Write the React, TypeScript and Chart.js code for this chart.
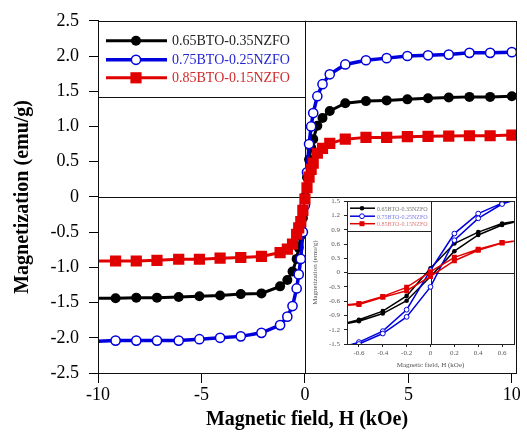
import React, { useEffect, useRef } from "react";
import { Chart, registerables } from "chart.js";

Chart.register(...registerables);

const SERIF = '"Liberation Serif", "Times New Roman", serif';

const seriesLabels = ["0.65BTO-0.35NZFO", "0.75BTO-0.25NZFO", "0.85BTO-0.15NZFO"];
const seriesColors = ["#000000", "#0000dd", "#e00000"];
const legendTextColors = ["#222222", "#2525d0", "#d02a2a"];
const insetLegendTextColors = ["#777777", "#7a7ae6", "#e07a7a"];

// Main plot: magnetic field (kOe) and magnetization (emu/g)
const fieldMain = [-10, -9.15, -8.15, -7.15, -6.1, -5.1, -4.1, -3.1, -2.1, -1.2, -0.85, -0.6, -0.4, -0.3, -0.2, -0.1, 0, 0.1, 0.2, 0.3, 0.4, 0.6, 0.85, 1.2, 1.95, 2.95, 3.95, 4.95, 5.95, 6.95, 7.95, 8.95, 10];
const m65Main = [-1.44, -1.44, -1.43, -1.43, -1.42, -1.41, -1.4, -1.38, -1.37, -1.27, -1.18, -1.06, -0.88, -0.72, -0.55, -0.3, 0, 0.28, 0.53, 0.7, 0.82, 1.01, 1.12, 1.22, 1.33, 1.36, 1.37, 1.385, 1.4, 1.41, 1.42, 1.42, 1.43];
const m75Main = [-2.05, -2.04, -2.04, -2.04, -2.04, -2.02, -2.0, -1.98, -1.93, -1.82, -1.7, -1.55, -1.3, -1.1, -0.88, -0.5, -0.12, 0.35, 0.75, 1.0, 1.19, 1.43, 1.6, 1.74, 1.88, 1.94, 1.97, 2.0, 2.01, 2.02, 2.045, 2.045, 2.055];
const m85Main = [-0.91, -0.91, -0.91, -0.9, -0.885, -0.885, -0.87, -0.86, -0.845, -0.79, -0.74, -0.67, -0.53, -0.44, -0.35, -0.19, -0.03, 0.13, 0.28, 0.39, 0.48, 0.62, 0.69, 0.76, 0.82, 0.845, 0.845, 0.855, 0.86, 0.863, 0.868, 0.868, 0.877];

// Inset: hysteresis loop near origin (descending then ascending branch)
const fieldInset = [0.8, 0.6, 0.4, 0.2, 0, -0.2, -0.4, -0.6, -0.8, -0.6, -0.4, -0.2, 0, 0.2, 0.4, 0.6, 0.8];
const m65Inset = [1.12, 1.03, 0.85, 0.61, 0.09, -0.49, -0.81, -0.99, -1.12, -1.02, -0.86, -0.59, -0.08, 0.45, 0.79, 1.0, 1.12];
const m75Inset = [1.6, 1.46, 1.24, 0.82, 0.05, -0.78, -1.23, -1.46, -1.62, -1.5, -1.28, -0.93, -0.3, 0.68, 1.14, 1.44, 1.6];
const m85Inset = [0.7, 0.63, 0.49, 0.32, 0.02, -0.31, -0.5, -0.65, -0.7, -0.67, -0.52, -0.38, -0.08, 0.25, 0.47, 0.62, 0.7];

const mainXTicks = [-10, -5, 0, 5, 10];
const mainYTicks = [-2.5, -2, -1.5, -1, -0.5, 0, 0.5, 1, 1.5, 2, 2.5];
const insetXTicks = [-0.6, -0.4, -0.2, 0, 0.2, 0.4, 0.6];
const insetYTicks = [-1.5, -1.2, -0.9, -0.6, -0.3, 0, 0.3, 0.6, 0.9, 1.2, 1.5];

function fmt(v: number): string {
  return Math.abs(v) < 1e-9 ? "0" : v.toFixed(1);
}

function pts(xs: number[], ys: number[]) {
  return xs.map((x, i) => ({ x, y: ys[i] }));
}

type Marker = { style: "circle" | "rect"; fill: string; stroke: string; r: number; bw: number };

function drawMarker(ctx: CanvasRenderingContext2D, x: number, y: number, m: Marker) {
  ctx.save();
  ctx.beginPath();
  if (m.style === "circle") ctx.arc(x, y, m.r, 0, Math.PI * 2);
  else ctx.rect(x - m.r, y - m.r, 2 * m.r, 2 * m.r);
  ctx.fillStyle = m.fill;
  ctx.fill();
  if (m.bw > 0) {
    ctx.lineWidth = m.bw;
    ctx.strokeStyle = m.stroke;
    ctx.stroke();
  }
  ctx.restore();
}

function makeDecor(id: string, cfg: {
  lineColor: string;
  legendHeight: number;
  rows: number[];
  lineStart: number;
  lineEnd: number;
  markerX: number;
  textX: number;
  lineWidths: number[];
  markers: Marker[];
  textColors: string[];
  fontSize: number;
}) {
  return {
    id,
    beforeDatasetsDraw(chart: any) {
      const { ctx, chartArea: a, scales } = chart;
      const x0 = Math.round(scales.x.getPixelForValue(0)) + 0.5;
      const y0 = Math.round(scales.y.getPixelForValue(0)) + 0.5;
      ctx.save();
      ctx.strokeStyle = cfg.lineColor;
      ctx.lineWidth = 1;
      ctx.beginPath();
      ctx.moveTo(a.left, y0);
      ctx.lineTo(a.right, y0);
      ctx.moveTo(x0, a.top);
      ctx.lineTo(x0, a.bottom);
      ctx.stroke();
      ctx.restore();
    },
    afterDatasetsDraw(chart: any) {
      const { ctx, chartArea: a, scales } = chart;
      const l = Math.round(a.left) + 0.5;
      const t = Math.round(a.top) + 0.5;
      const r = Math.round(a.right) + 0.5;
      const b = Math.round(a.bottom) + 0.5;
      const x0 = Math.round(scales.x.getPixelForValue(0)) + 0.5;
      ctx.save();
      ctx.strokeStyle = cfg.lineColor;
      ctx.lineWidth = 1;
      ctx.strokeRect(l, t, r - l, b - t);
      // legend box
      ctx.fillStyle = "#ffffff";
      ctx.fillRect(l, t, x0 - l, cfg.legendHeight);
      ctx.strokeRect(l, t, x0 - l, cfg.legendHeight);
      ctx.font = `${cfg.fontSize}px ${SERIF}`;
      ctx.textBaseline = "middle";
      ctx.textAlign = "left";
      seriesLabels.forEach((label, i) => {
        const y = a.top + cfg.rows[i];
        ctx.beginPath();
        ctx.strokeStyle = seriesColors[i];
        ctx.lineWidth = cfg.lineWidths[i];
        ctx.moveTo(a.left + cfg.lineStart, y);
        ctx.lineTo(a.left + cfg.lineEnd, y);
        ctx.stroke();
        drawMarker(ctx, a.left + cfg.markerX, y, cfg.markers[i]);
        ctx.fillStyle = cfg.textColors[i];
        ctx.fillText(label, a.left + cfg.textX, y + 1);
      });
      ctx.restore();
    },
  };
}

const mainMarkers: Marker[] = [
  { style: "circle", fill: "#000000", stroke: "#000000", r: 5, bw: 0 },
  { style: "circle", fill: "#ffffff", stroke: "#0000dd", r: 4.6, bw: 1.5 },
  { style: "rect", fill: "#e00000", stroke: "#e00000", r: 5.6, bw: 0 },
];
const insetMarkers: Marker[] = [
  { style: "circle", fill: "#000000", stroke: "#000000", r: 2.3, bw: 0 },
  { style: "circle", fill: "#ffffff", stroke: "#0000dd", r: 2.4, bw: 1 },
  { style: "rect", fill: "#e00000", stroke: "#e00000", r: 2.5, bw: 0 },
];

function axisCommon(tickLen: number, color: string) {
  return {
    grid: { display: true, drawOnChartArea: false, drawTicks: true, tickLength: tickLen, color, lineWidth: 1 },
    border: { display: true, color, width: 1 },
  };
}

export default function App() {
  const mainRef = useRef<HTMLCanvasElement>(null);
  const insetRef = useRef<HTMLCanvasElement>(null);

  useEffect(() => {
    const mainSeries = [m65Main, m75Main, m85Main];
    const mainLineWidths = [3, 3.5, 3];
    const main = new Chart(mainRef.current as HTMLCanvasElement, {
      type: "scatter",
      data: {
        datasets: mainSeries.map((ys, i) => ({
          label: seriesLabels[i],
          data: pts(fieldMain, ys),
          showLine: true,
          tension: 0,
          borderColor: seriesColors[i],
          borderWidth: mainLineWidths[i],
          pointStyle: mainMarkers[i].style === "rect" ? "rect" : "circle",
          pointRadius: (c: any) => (c.raw && c.raw.x <= -10 ? 0 : mainMarkers[i].style === "rect" ? mainMarkers[i].r * Math.SQRT2 : mainMarkers[i].r),
          pointBackgroundColor: mainMarkers[i].fill,
          pointBorderColor: mainMarkers[i].stroke,
          pointBorderWidth: mainMarkers[i].bw,
          order: 3 - i,
        })),
      },
      options: {
        responsive: false,
        animation: false,
        events: [],
        layout: { padding: { top: 12, right: 11, left: 0, bottom: 0 } },
        plugins: { legend: { display: false }, tooltip: { enabled: false } },
        scales: {
          x: {
            type: "linear",
            min: -10,
            max: 10.2,
            afterBuildTicks: (s: any) => {
              s.ticks = mainXTicks.map((v) => ({ value: v }));
            },
            afterFit: (s: any) => {
              s.height = 68;
            },
            ...axisCommon(10, "#000000"),
            ticks: {
              color: "#000000",
              font: { family: SERIF, size: 18 },
              padding: 1,
              maxRotation: 0,
              autoSkip: false,
              callback: (v: any) => String(v),
            },
            title: {
              display: true,
              text: "Magnetic field, H (kOe)",
              color: "#000000",
              font: { family: SERIF, size: 20, weight: "bold" },
              padding: { top: 0, bottom: 9 },
            },
          },
          y: {
            type: "linear",
            min: -2.5,
            max: 2.5,
            afterBuildTicks: (s: any) => {
              s.ticks = mainYTicks.map((v) => ({ value: v }));
            },
            afterFit: (s: any) => {
              s.width = 98;
            },
            ...axisCommon(9, "#000000"),
            ticks: {
              color: "#000000",
              font: { family: SERIF, size: 18 },
              padding: 10,
              autoSkip: false,
              callback: (v: any) => fmt(Number(v)),
            },
            title: {
              display: true,
              text: "Magnetization (emu/g)",
              color: "#000000",
              font: { family: SERIF, size: 20, weight: "bold" },
              padding: { top: 11, bottom: 0 },
            },
          },
        },
      },
      plugins: [
        makeDecor("mainDecor", {
          lineColor: "#111111",
          legendHeight: 76,
          rows: [20, 39, 57],
          lineStart: 8,
          lineEnd: 69,
          markerX: 38,
          textX: 74,
          lineWidths: [3, 3.5, 3],
          markers: mainMarkers,
          textColors: legendTextColors,
          fontSize: 14,
        }) as any,
      ],
    } as any);

    const insetSeries = [m65Inset, m75Inset, m85Inset];
    const inset = new Chart(insetRef.current as HTMLCanvasElement, {
      type: "scatter",
      data: {
        datasets: insetSeries.map((ys, i) => ({
          label: seriesLabels[i],
          data: pts(fieldInset, ys),
          showLine: true,
          tension: 0,
          clip: 0,
          borderColor: seriesColors[i],
          borderWidth: 1.5,
          pointStyle: insetMarkers[i].style === "rect" ? "rect" : "circle",
          pointRadius: insetMarkers[i].style === "rect" ? insetMarkers[i].r * Math.SQRT2 : insetMarkers[i].r,
          pointBackgroundColor: insetMarkers[i].fill,
          pointBorderColor: insetMarkers[i].stroke,
          pointBorderWidth: insetMarkers[i].bw,
          order: 3 - i,
        })),
      },
      options: {
        responsive: false,
        animation: false,
        events: [],
        layout: { padding: { top: 7, right: 13, left: 0, bottom: 0 } },
        plugins: { legend: { display: false }, tooltip: { enabled: false } },
        scales: {
          x: {
            type: "linear",
            min: -0.7,
            max: 0.7,
            afterBuildTicks: (s: any) => {
              s.ticks = insetXTicks.map((v) => ({ value: v }));
            },
            afterFit: (s: any) => {
              s.height = 29;
            },
            ...axisCommon(3, "#222222"),
            ticks: {
              color: "#555555",
              font: { family: SERIF, size: 7 },
              padding: 2,
              maxRotation: 0,
              autoSkip: false,
              callback: (v: any) => fmt(Number(v)),
            },
            title: {
              display: true,
              text: "Magnetic field, H (kOe)",
              color: "#555555",
              font: { family: SERIF, size: 7 },
              padding: { top: 0, bottom: 4 },
            },
          },
          y: {
            type: "linear",
            min: -1.5,
            max: 1.5,
            afterBuildTicks: (s: any) => {
              s.ticks = insetYTicks.map((v) => ({ value: v }));
            },
            afterFit: (s: any) => {
              s.width = 39;
            },
            ...axisCommon(3, "#222222"),
            ticks: {
              color: "#555555",
              font: { family: SERIF, size: 7 },
              padding: 4,
              autoSkip: false,
              callback: (v: any) => fmt(Number(v)),
            },
            title: {
              display: true,
              text: "Magnetization (emu/g)",
              color: "#555555",
              font: { family: SERIF, size: 7 },
              padding: { top: 3, bottom: 0 },
            },
          },
        },
      },
      plugins: [
        makeDecor("insetDecor", {
          lineColor: "#222222",
          legendHeight: 30,
          rows: [7, 15, 22.5],
          lineStart: 3,
          lineEnd: 28,
          markerX: 15,
          textX: 30,
          lineWidths: [1.5, 1.5, 1.5],
          markers: insetMarkers,
          textColors: insetLegendTextColors,
          fontSize: 6,
        }) as any,
      ],
    } as any);

    return () => {
      main.destroy();
      inset.destroy();
    };
  }, []);

  return (
    <div style={{ position: "fixed", left: 0, top: 0, width: 527, height: 441, background: "#ffffff", overflow: "hidden" }}>
      <canvas ref={mainRef} width={527} height={441} style={{ position: "absolute", left: 0, top: 0, width: 527, height: 441 }} />
      <canvas ref={insetRef} width={219} height={180} style={{ position: "absolute", left: 308, top: 193, width: 219, height: 180 }} />
    </div>
  );
}
